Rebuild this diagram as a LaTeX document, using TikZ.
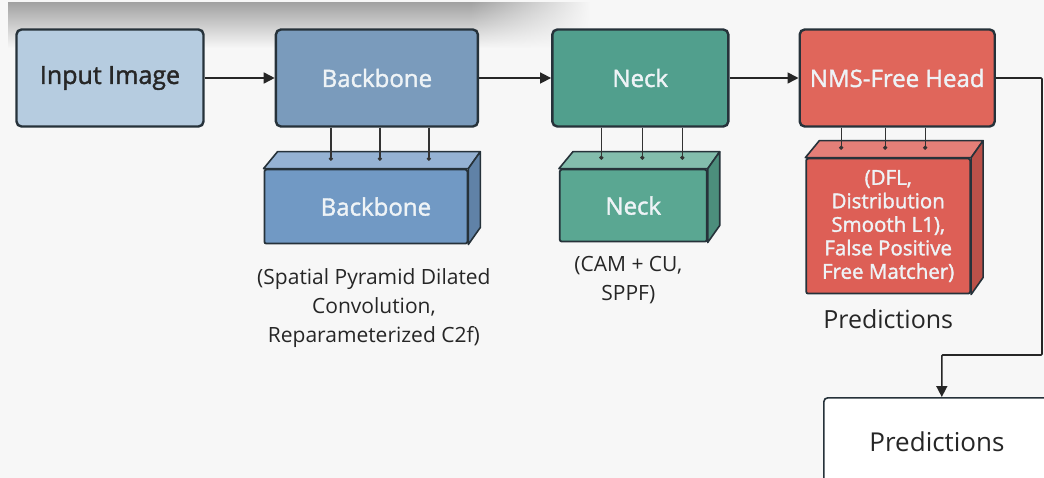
\documentclass[tikz,border=0pt]{standalone}
\usepackage{fontspec}
\setmainfont{Open Sans}
\newfontfamily\medfont[FakeBold=1.6]{Open Sans}
\usepackage{tikz}
\usetikzlibrary{arrows.meta,calc,positioning,fadings}
\definecolor{PageBg}{HTML}{F7F7F7}
\definecolor{EdgeDark}{HTML}{26323A}
\definecolor{InputBlue}{HTML}{B6CCE0}
\definecolor{SteelBlue}{HTML}{7A9BBC}
\definecolor{CubeBlue}{HTML}{7199C4}
\definecolor{NeckTeal}{HTML}{519F8D}
\definecolor{CubeTeal}{HTML}{5AA792}
\definecolor{HeadRed}{HTML}{E0665B}
\definecolor{CubeRed}{HTML}{DD5F56}
\definecolor{LabelWhite}{HTML}{EEF3F6}

% top and side faces of a box drawn next to its front node
\newcommand{\cubefaces}[3]{%
  \filldraw[fill=#2,draw=EdgeDark,line width=1.6pt,line join=round]
    (#1.north west) -- ++(14,-17) -- ($(#1.north east)+(12,-17)$) -- (#1.north east) -- cycle;
  \filldraw[fill=#3,draw=EdgeDark,line width=1.6pt,line join=round]
    (#1.north east) -- ++(12,-17) -- ($(#1.south east)+(12,-17)$) -- (#1.south east) -- cycle;
}

\begin{document}
\begin{tikzpicture}[x=1pt,y=-1pt,
  stage/.style={draw=EdgeDark,line width=2.4pt,rounded corners=5pt,minimum height=97pt,
    font=\medfont\fontsize{24}{28}\selectfont,text=LabelWhite},
  front/.style={draw=EdgeDark,line width=1.8pt,rounded corners=2pt,
    font=\medfont\fontsize{24}{28}\selectfont,text=LabelWhite},
  caption/.style={align=center,text=black!85,font=\fontsize{21}{29}\selectfont},
  flow/.style={line width=1.6pt,draw=black!85,-{Triangle[length=11pt,width=11pt]}},
  tap/.style={line width=1.3pt,draw=black!80,-{Circle[length=4pt]}}]
\clip (0,0) rectangle (1044,478);
\fill[PageBg] (0,0) rectangle (1044,478);
\shade[top color=black!36,bottom color=PageBg] (8,3) rectangle (470,48);
\shade[top color=black!36,bottom color=PageBg,path fading=east] (470,3) rectangle (590,48);

% top row
\node[stage,minimum width=187pt,fill=InputBlue,text=black!85,font=\medfont\fontsize{25}{30}\selectfont] (input) at (110,78) {Input Image};
\node[stage,minimum width=202pt,fill=SteelBlue,right=70pt of input] (backbone) {Backbone};
\node[stage,minimum width=176pt,fill=NeckTeal,right=72pt of backbone] (neck) {Neck};
\node[stage,minimum width=195pt,fill=HeadRed,right=69pt of neck] (head) {NMS-Free Head};
\draw[flow] (input) -- (backbone);
\draw[flow] (backbone) -- (neck);
\draw[flow] (neck) -- (head);

% blocks under each stage
\node[front,minimum width=203pt,minimum height=74pt,fill=CubeBlue,below=41pt of backbone,xshift=-11pt] (bbfront) {\hspace*{20pt}Backbone};
\cubefaces{bbfront}{CubeBlue!75!white}{CubeBlue!85!black}
\node[front,minimum width=147pt,minimum height=72pt,fill=CubeTeal,below=41pt of neck,xshift=-7pt] (neckfront) {Neck};
\cubefaces{neckfront}{CubeTeal!75!white}{CubeTeal!85!black}
\node[front,minimum width=164pt,minimum height=135pt,fill=CubeRed,below=30pt of head,xshift=-9pt,
  align=center,font=\medfont\fontsize{20.5}{23.5}\selectfont] (headfront) {(DFL,\\Distribution\\Smooth L1),\\False Positive\\Free Matcher)};
\cubefaces{headfront}{CubeRed!80!white}{CubeRed!85!black}

\foreach \dx in {-46,3,52} \draw[tap] ([xshift=\dx pt]backbone.south) -- ++(0,33);
\foreach \dx in {-39,2,42} \draw[tap] ([xshift=\dx pt]neck.south) -- ++(0,32);
\foreach \dx in {-56,-12,28} \draw[tap] ([xshift=\dx pt]head.south) -- ++(0,22);

% notes under the blocks
\node[caption,below=21pt of bbfront,xshift=8pt] (bbnote) {(Spatial Pyramid Dilated\\Convolution,\\Reparameterized C2f)};
\node[caption,below=10pt of neckfront,xshift=-5pt] (necknote) {(CAM + CU,\\SPPF)};
\node[caption,below=11pt of headfront,font=\fontsize{25}{28}\selectfont] (headnote) {Predictions};

% output
\node[draw=EdgeDark,line width=1.6pt,rounded corners=4pt,fill=white,minimum width=236pt,minimum height=120pt,
  anchor=north west] (preds) at (823,397) {};
\node[font=\fontsize{26}{30}\selectfont,text=black!85] (predstext) at (937,442) {Predictions};
\coordinate (turn) at (1042,355);
\draw[flow,rounded corners=1pt] (head.east) -- (head.east -| turn) -- (turn) -| (preds.north);
\end{tikzpicture}
\end{document}
